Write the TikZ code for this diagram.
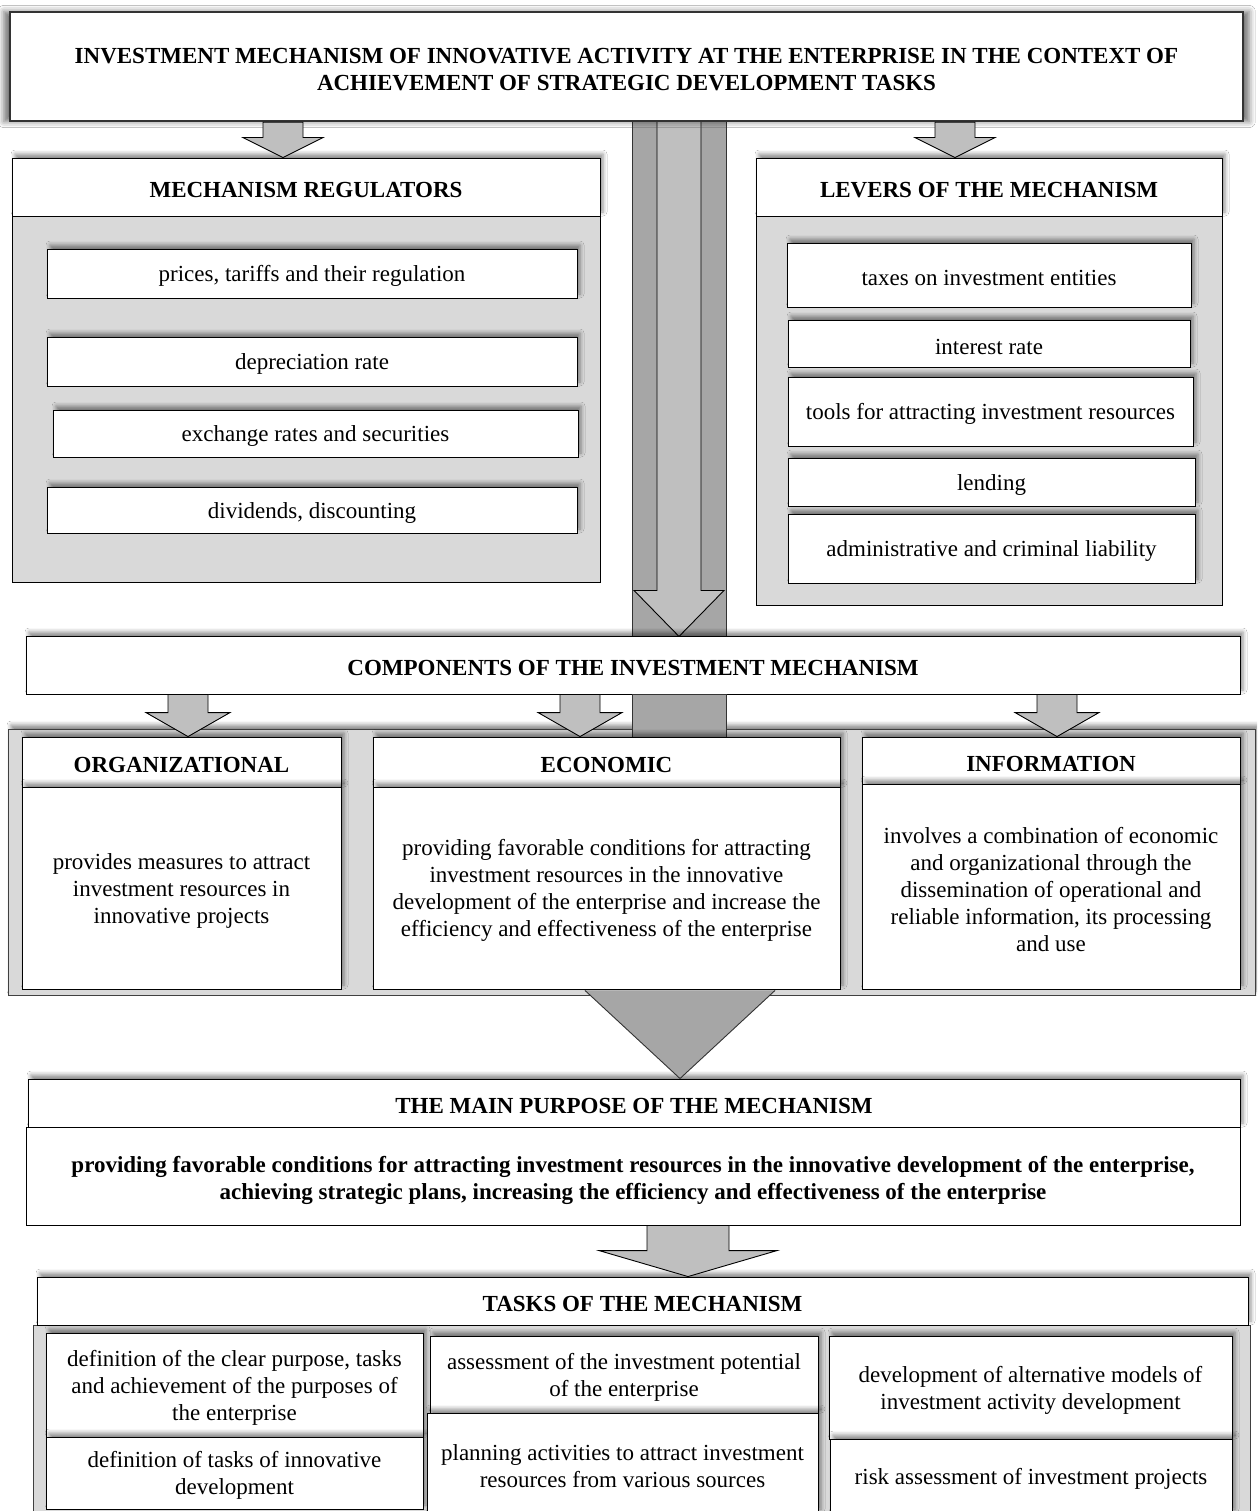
\documentclass[tikz,border=0pt]{standalone}
\usepackage{fontspec}
\setmainfont{Liberation Serif}
\usetikzlibrary{calc,shadows.blur}
\definecolor{pgray}{HTML}{D9D9D9}
\definecolor{agray}{HTML}{BFBFBF}
\definecolor{dgray}{HTML}{A6A6A6}
\newcommand\bxstrut{\rule{0pt}{21.5pt}}
\newcommand\bx[8][]{%
 \pgfmathsetmacro\bxcx{(#4+#6)/2}%
 \pgfmathsetmacro\bxcy{(#5+#7)/2}%
 \pgfmathsetmacro\bxw{#6-#4}%
 \pgfmathsetmacro\bxh{#7-#5}%
 \node[#2,minimum width=\bxw pt,minimum height=\bxh pt,#1] (#3) at (\bxcx,\bxcy) {\bxstrut#8};}
\newcommand\barrow[7]{%
 \draw[#1] let \p1=(#2), \p2=(#3) in
 (#4pt-#5pt,\y1) -- (#4pt+#5pt,\y1) -- (#4pt+#5pt,\y2+#7pt) -- (#4pt+#6pt,\y2+#7pt)
 -- (#4pt,\y2) -- (#4pt-#6pt,\y2+#7pt) -- (#4pt-#5pt,\y2+#7pt) -- cycle;}
\tikzset{
 txt/.style={font=\fontsize{23}{27}\selectfont},
 box/.style={draw=black, fill=white, line width=0.9pt, align=center, inner sep=0pt, txt},
 bbox/.style={box, font=\bfseries\fontsize{23}{27}\selectfont},
 sh/.style={blur shadow={shadow xshift=3pt, shadow yshift=4pt, shadow blur radius=4pt, shadow opacity=45}},
 tsh/.style={blur shadow={shadow xshift=0pt, shadow yshift=0pt, shadow blur radius=6pt, shadow scale=1.01, shadow opacity=55}},
 panel/.style={draw=black, fill=pgray, line width=0.9pt, inner sep=0pt},
 larr/.style={draw=black, fill=agray, line width=0.9pt, line join=miter},
 darr/.style={draw=black!80, fill=dgray, line width=0.9pt, line join=miter},
}
\begin{document}
\begin{tikzpicture}[x=1pt,y=-1pt]
\useasboundingbox (0,0) rectangle (1257,1511);
\fill[white] (0,0) rectangle (1257,1511);
\clip (0,0) rectangle (1257,1511);

% central column and big arrow
\bx{darr,inner sep=0pt}{col}{632}{121}{726}{636}{}
\barrow{larr}{col.north}{col.south}{679}{22}{45}{46}

% title
\bx{bbox,tsh,line width=2.6pt,draw=black!80}{title}{10}{12}{1243}{121}{INVESTMENT MECHANISM OF INNOVATIVE ACTIVITY AT THE ENTERPRISE IN THE CONTEXT OF\\ACHIEVEMENT OF STRATEGIC DEVELOPMENT TASKS}

% regulators
\bx{panel}{regp}{12}{216}{600}{582}{}
\bx{bbox,sh}{regh}{12}{158}{600}{216}{MECHANISM REGULATORS}
\bx{box,sh}{r1}{47}{249}{577}{298}{prices, tariffs and their regulation}
\bx{box,sh}{r2}{47}{337}{577}{386}{depreciation rate}
\bx{box,sh}{r3}{53}{410}{578}{457}{exchange rates and securities}
\bx{box,sh}{r4}{47}{487}{577}{533}{dividends, discounting}

% levers
\bx{panel}{levp}{756}{216}{1222}{605}{}
\bx{bbox,sh}{levh}{756}{158}{1222}{216}{LEVERS OF THE MECHANISM}
\bx{box,sh}{l1}{787}{243}{1191}{307}{taxes on investment entities}
\bx{box,sh}{l2}{788}{320}{1190}{367}{interest rate}
\bx{box,sh}{l3}{788}{377}{1193}{446}{tools for attracting investment resources}
\bx{box,sh}{l4}{788}{458}{1195}{506}{lending}
\bx{box,sh}{l5}{788}{514}{1195}{583}{administrative and criminal liability}

\barrow{larr}{title.south}{regh.north}{283}{20}{40}{20}
\barrow{larr}{title.south}{levh.north}{955}{20}{40}{20}

% components
\bx{bbox,sh}{comp}{26}{636}{1240}{694}{COMPONENTS OF THE INVESTMENT MECHANISM}
\bx{panel,sh,draw=black!75}{rowp}{8}{729}{1255}{995}{}
\bx{darr,inner sep=0pt}{colb}{632}{694}{726}{737}{}
\bx{bbox,sh}{orgh}{22}{737}{341}{787}{ORGANIZATIONAL}
\bx{box,sh}{orgb}{22}{787}{341}{989}{provides measures to attract\\investment resources in\\innovative projects}
\bx{bbox,sh}{ecoh}{373}{737}{840}{787}{ECONOMIC}
\bx{box,sh}{ecob}{373}{787}{840}{989}{providing favorable conditions for attracting\\investment resources in the innovative\\development of the enterprise and increase the\\efficiency and effectiveness of the enterprise}
\bx{bbox,sh}{infh}{862}{737}{1240}{784}{INFORMATION}
\bx{box,sh}{infb}{862}{784}{1240}{989}{involves a combination of economic\\and organizational through the\\dissemination of operational and\\reliable information, its processing\\and use}

\barrow{larr}{comp.south}{orgh.north}{188}{20}{42}{24}
\barrow{larr}{comp.south}{ecoh.north}{580}{20}{42}{24}
\barrow{larr}{comp.south}{infh.north}{1057}{20}{42}{24}

% purpose
\bx{bbox,sh}{pur}{28}{1079}{1240}{1127}{THE MAIN PURPOSE OF THE MECHANISM}
\bx{bbox}{purb}{26}{1127}{1240}{1225}{\rule{0pt}{26pt}providing favorable conditions for attracting investment resources in the innovative development of the enterprise,\\achieving strategic plans, increasing the efficiency and effectiveness of the enterprise}

\draw[darr] let \p1=(ecob.south), \p2=(pur.north) in
 (585pt,\y1-1pt) -- (680pt,\y2) -- (775pt,\y1-1pt);

% tasks
\bx{panel,draw=black!75}{tskp}{33}{1325}{1250}{1520}{}
\bx{bbox,sh}{tskh}{37}{1277}{1248}{1325}{TASKS OF THE MECHANISM}
\barrow{larr}{purb.south}{tskh.north}{688}{41}{89}{26}
\bx{box,sh}{t1}{46}{1333}{423}{1437}{definition of the clear purpose, tasks\\and achievement of the purposes of\\the enterprise}
\bx{box,sh}{t2}{46}{1437}{423}{1509}{definition of tasks of innovative\\development}
\bx{box,sh}{t3}{430}{1336}{818}{1413}{assessment of the investment potential\\of the enterprise}
\bx{box,sh}{t4}{427}{1413}{818}{1513}{planning activities to attract investment\\resources from various sources}
\bx{box,sh}{t5}{829}{1336}{1232}{1439}{development of alternative models of\\investment activity development}
\bx{box,sh}{t6}{830}{1439}{1232}{1513}{risk assessment of investment projects}
\end{tikzpicture}
\end{document}
